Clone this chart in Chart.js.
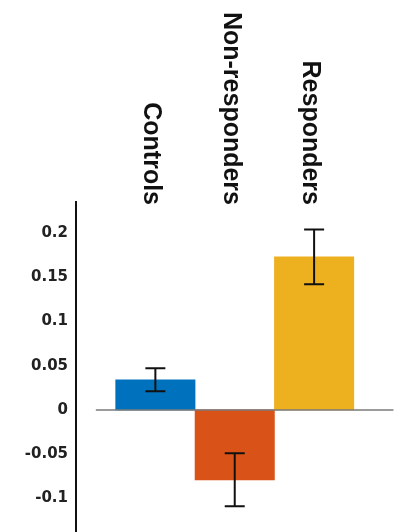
<!DOCTYPE html>
<html>
<head>
<meta charset="utf-8">
<script src="https://cdn.jsdelivr.net/npm/chart.js@4/dist/chart.umd.min.js"></script>
<style>
  html, body { margin: 0; padding: 0; background: #fff; }
  #chart { display: block; }
</style>
</head>
<body>
<canvas id="chart" width="403" height="532"></canvas>
<script>
// groups and their mean values, with the half-length of each error bar
const groups = ['Controls', 'Non-responders', 'Responders'];
const groupX = [1, 2, 3];
const means = [0.034, -0.079, 0.173];
const errors = [0.013, 0.030, 0.031];
const barColors = ['#0072BD', '#D95319', '#EDB120'];

// y axis ticks
const yTicks = [-0.1, -0.05, 0, 0.05, 0.1, 0.15, 0.2];
const yTickLabels = ['-0.1', '-0.05', '0', '0.05', '0.1', '0.15', '0.2'];

// the grey baseline runs from here to here (x units)
const baseX = [0.25, 4];

// error bars on top of the bars
const errorBars = {
    id: 'errorBars',
    afterDatasetsDraw(chart) {
        const { ctx, scales: { x, y } } = chart;
        ctx.save();
        ctx.strokeStyle = '#111';
        ctx.lineWidth = 2;
        means.forEach((m, i) => {
            const px = x.getPixelForValue(groupX[i]);
            const top = y.getPixelForValue(m + errors[i]);
            const bot = y.getPixelForValue(m - errors[i]);
            ctx.beginPath();
            ctx.moveTo(px, top); ctx.lineTo(px, bot);
            ctx.moveTo(px - 10, top); ctx.lineTo(px + 10, top);
            ctx.moveTo(px - 10, bot); ctx.lineTo(px + 10, bot);
            ctx.stroke();
        });
        ctx.restore();
    }
};

// rotated group names above the plot
const groupLabels = {
    id: 'groupLabels',
    afterDraw(chart) {
        const { ctx, scales: { x } } = chart;
        ctx.save();
        ctx.fillStyle = '#111';
        ctx.font = 'bold 25px "Liberation Sans", Arial, sans-serif';
        ctx.textAlign = 'right';
        ctx.textBaseline = 'middle';
        groups.forEach((g, i) => {
            const px = x.getPixelForValue(groupX[i]) - 4;
            ctx.save();
            ctx.translate(px, 205);
            ctx.rotate(Math.PI / 2);
            ctx.fillText(g, 0, 0);
            ctx.restore();
        });
        ctx.restore();
    }
};

new Chart(document.getElementById('chart'), {
    data: {
        datasets: [
            {
                type: 'line',
                order: 0,
                data: baseX.map(v => ({ x: v, y: 0 })),
                borderColor: '#7a7a7a',
                borderWidth: 1.5,
                pointRadius: 0
            },
            {
                type: 'bar',
                order: 1,
                data: groupX.map((v, i) => ({ x: v, y: means[i] })),
                backgroundColor: barColors,
                borderWidth: 0,
                barPercentage: 1,
                categoryPercentage: 1
            }
        ]
    },
    options: {
        responsive: false,
        animation: false,
        layout: { padding: { top: 202, left: 0, right: 0, bottom: 0 } },
        plugins: {
            legend: { display: false },
            tooltip: { enabled: false }
        },
        scales: {
            x: {
                type: 'linear',
                display: false,
                offset: false,
                min: 0,
                max: 4.12,
                afterBuildTicks: s => { s.ticks = groupX.map(v => ({ value: v })); }
            },
            y: {
                min: -0.138,
                max: 0.235,
                afterBuildTicks: s => { s.ticks = yTicks.map(v => ({ value: v })); },
                afterFit: s => { s.width = 76; s.paddingTop = 0; s.paddingBottom = 0; },
                grid: { display: false, drawTicks: false },
                border: { display: true, color: '#111', width: 2 },
                ticks: {
                    padding: 8,
                    color: '#222',
                    font: { family: 'DejaVu Sans', size: 15, weight: 'bold' },
                    callback: (v) => yTickLabels[yTicks.indexOf(v)]
                }
            }
        }
    },
    plugins: [errorBars, groupLabels]
});
</script>
</body>
</html>
